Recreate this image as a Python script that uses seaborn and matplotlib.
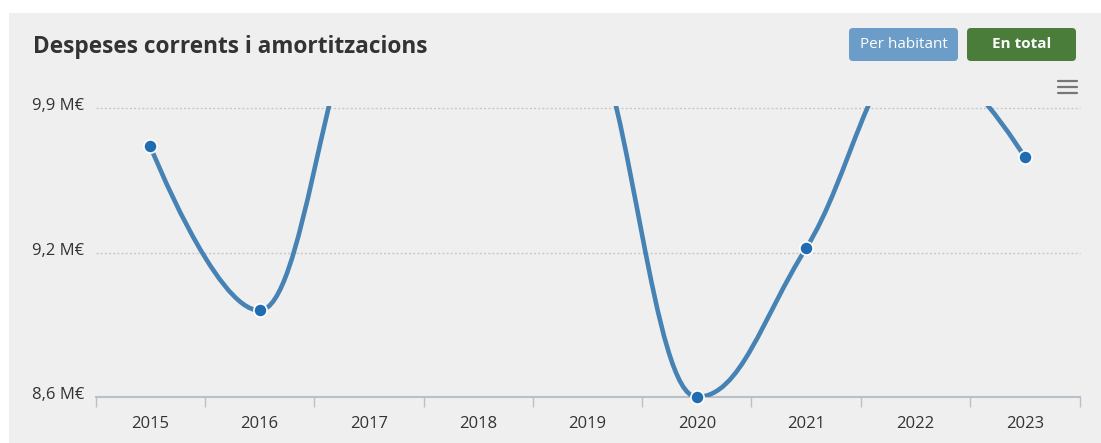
import numpy as np
import pandas as pd
import matplotlib
matplotlib.use("Agg")
import matplotlib.pyplot as plt
import seaborn as sns
from matplotlib.path import Path
from matplotlib.patches import PathPatch, FancyBboxPatch, Rectangle
from matplotlib.lines import Line2D
import matplotlib.transforms as mtransforms

# ---------------- data ----------------
years = ["2015", "2016", "2017", "2018", "2019", "2020", "2021", "2022", "2023"]
values = [9.731, 8.990, 10.40, 10.60, 10.29, 8.600, 9.271, 10.16, 9.681]  # M€
ytick_values = [8.6, 9.25, 9.9]
ytick_labels = ["8,6 M€", "9,2 M€", "9,9 M€"]
title = "Despeses corrents i amortitzacions"
button_labels = ["Per habitant", "En total"]

# ---------------- style ----------------
sns.set_theme(style="white")
plt.rcParams["font.family"] = ["Open Sans", "DejaVu Sans"]

W, H = 1101, 443
fig = plt.figure(figsize=(W / 100, H / 100), dpi=100, facecolor="white")
px = mtransforms.IdentityTransform()

# grey panel
fig.patches.append(Rectangle((9, 0), W - 9, H - 13, transform=px,
                             facecolor="#efefef", edgecolor="none", zorder=-10))

ax = fig.add_axes([95.5 / W, (H - 397) / H, (1079.5 - 95.5) / W, (397 - 108.5) / H])
ax.set_facecolor("none")
ax.set_zorder(1)

df = pd.DataFrame({"year": years, "value": values})
df["x"] = np.arange(len(df))


def spline_path(xs, ys, smoothing=1.5):
    denom = smoothing + 1
    n = len(xs)
    rc = [None] * n
    verts = [(xs[0], ys[0])]
    codes = [Path.MOVETO]
    for i in range(1, n):
        x, y = xs[i], ys[i]
        lx, ly = xs[i - 1], ys[i - 1]
        if i < n - 1:
            nx, ny = xs[i + 1], ys[i + 1]
            lcx = (smoothing * x + lx) / denom
            lcy = (smoothing * y + ly) / denom
            rcx = (smoothing * x + nx) / denom
            rcy = (smoothing * y + ny) / denom
            if rcx != lcx:
                corr = ((rcy - lcy) * (rcx - x)) / (rcx - lcx) + y - rcy
                lcy += corr
                rcy += corr
                if lcy > ly and lcy > y:
                    lcy = max(ly, y); rcy = 2 * y - lcy
                elif lcy < ly and lcy < y:
                    lcy = min(ly, y); rcy = 2 * y - lcy
                if rcy > ny and rcy > y:
                    rcy = max(ny, y); lcy = 2 * y - rcy
                elif rcy < ny and rcy < y:
                    rcy = min(ny, y); lcy = 2 * y - rcy
            rc[i] = (rcx, rcy)
            left = (lcx, lcy)
        else:
            left = (x, y)
        prev_rc = rc[i - 1] if rc[i - 1] is not None else (lx, ly)
        verts += [prev_rc, left, (x, y)]
        codes += [Path.CURVE4] * 3
    return Path(verts, codes)


line = PathPatch(spline_path(list(df["x"]), list(df["value"])), facecolor="none",
                 edgecolor="#4682b4", lw=3.3, zorder=3, capstyle="round", joinstyle="round")
ax.add_patch(line)
line_clip = Rectangle((0, 0), 1, 1.01, transform=ax.transAxes)
line.set_clip_path(line_clip)

sns.scatterplot(data=df, x="x", y="value", s=90, color="#1f6cb3", edgecolor="white",
                linewidth=1.2, zorder=4, ax=ax, legend=False)
clip = Rectangle((-0.05, -0.1), 1.1, 1.1, transform=ax.transAxes)
ax.collections[-1].set_clip_path(clip)

ax.set_xlim(-0.5, len(years) - 0.5)
ax.set_ylim(ytick_values[0], ytick_values[-1])

# x axis
ax.set_xticks(df["x"])
ax.set_xticklabels(years, fontsize=12, color="#333333")
ax.tick_params(axis="x", which="major", length=0, pad=14)
ax.set_xticks(np.arange(-0.5, len(years), 1.0), minor=True)
ax.tick_params(axis="x", which="minor", length=7, width=1, color="#b8c0c8", direction="out",
               bottom=True)
ax.set_xlabel("")

# y axis
ax.set_yticks(ytick_values)
ax.set_yticklabels(ytick_labels, fontsize=12, color="#333333")
ax.tick_params(axis="y", length=0, pad=8)
off = mtransforms.ScaledTranslation(0, 4 / 100, fig.dpi_scale_trans)
for lab in ax.get_yticklabels():
    lab.set_transform(lab.get_transform() + off)
ax.set_ylabel("")

for v in ytick_values[1:]:
    ax.axhline(v, color="#c8c8c8", lw=1, ls=(0, (1.5, 1.5)), zorder=1, clip_on=False)

for s in ["top", "right", "left"]:
    ax.spines[s].set_visible(False)
ax.spines["bottom"].set_color("#b8c0c8")
ax.spines["bottom"].set_linewidth(1.5)

# title
fig.text(33 / W, 1 - 47 / H, title, fontsize=16.3, fontweight="bold", color="#333333",
         va="center", ha="left")

# buttons
btns = [(849, 958, "#6c9cc8", "normal"), (967, 1076, "#4a7d3a", "bold")]
for (x0, x1, col, fw), lab in zip(btns, button_labels):
    y0, y1 = H - 61, H - 28
    fig.patches.append(FancyBboxPatch((x0, y0), x1 - x0, y1 - y0,
                                      boxstyle="round,pad=0,rounding_size=4",
                                      transform=px, facecolor=col, edgecolor="none", zorder=2))
    fig.text((x0 + x1) / 2 / W, (y0 + y1) / 2 / H, lab, color="white", fontsize=11,
             fontweight=fw, ha="center", va="center", zorder=3)

# menu icon
for yy in [81, 87, 93]:
    fig.add_artist(Line2D([1058, 1077], [H - yy, H - yy], transform=px, color="#777777", lw=1.6))

fig.savefig("out.png", dpi=100)
